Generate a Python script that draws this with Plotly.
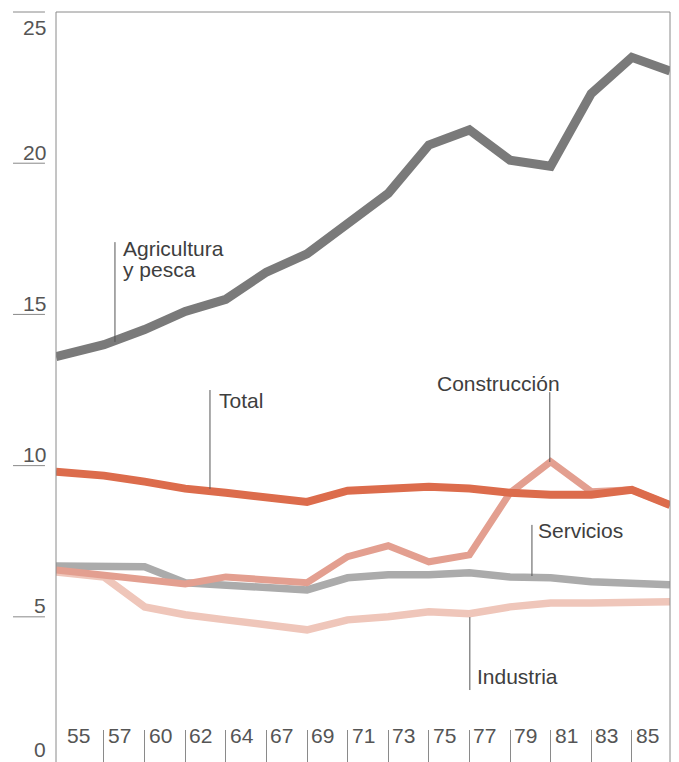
import plotly.graph_objects as go

# ---- data ----
years = ["55", "57", "60", "62", "64", "67", "69", "71", "73", "75", "77", "79", "81", "83", "85"]
# 16 points: one per labelled year plus the end of the chart at the right frame
agricultura = [13.6, 14.0, 14.5, 15.1, 15.5, 16.4, 17.0, 18.0, 19.0, 20.6, 21.1, 20.1, 19.9, 22.3, 23.5, 23.05]
total = [9.8, 9.67, 9.47, 9.24, 9.1, 8.97, 8.8, 9.17, 9.24, 9.3, 9.24, 9.1, 9.04, 9.04, 9.2, 8.7]
construccion = [6.55, 6.36, 6.23, 6.09, 6.32, 6.23, 6.13, 6.99, 7.35, 6.82, 7.05, 9.1, 10.13, 9.14, 9.2, 8.7]
servicios = [6.68, 6.69, 6.66, 6.13, 6.06, 5.96, 5.89, 6.29, 6.39, 6.39, 6.46, 6.32, 6.29, 6.16, 6.13, 6.06]
industria = [6.48, 6.32, 5.33, 5.07, 4.9, 4.74, 4.57, 4.9, 5.0, 5.17, 5.1, 5.33, 5.46, 5.46, 5.46, 5.5]
y_ticks = [25, 20, 15, 10, 5, 0]

X_MIN, X_MAX = -0.182, 14.94
Y_MIN, Y_MAX = 0.2, 25

n = len(agricultura)
x = list(range(n))
x[0] = X_MIN          # series start at the left frame
x[-1] = X_MAX         # and end at the right frame

fig = go.Figure()
series = [
    (industria, "#efc6ba", 7.5),
    (servicios, "#ababab", 7.5),
    (construccion, "#e39f90", 7),
    (total, "#dc6c4c", 8),
    (agricultura, "#7a7a7a", 9),
]
for ys, col, w in series:
    fig.add_trace(go.Scatter(x=x, y=ys, mode="lines",
                             line=dict(color=col, width=w), hoverinfo="skip",
                             showlegend=False))

FONT = "Liberation Sans"
TXT = "#3e3e3e"
AXT = "#555555"
ann = []
shapes = []


def ypaper(v):
    return (v - Y_MIN) / (Y_MAX - Y_MIN)


# y-axis labels with short rules
yshifts = {25: -15, 0: 19}
for v in y_ticks:
    ann.append(dict(xref="paper", yref="paper", x=0, y=ypaper(v), xanchor="right", yanchor="middle",
                    xshift=-8, yshift=yshifts.get(v, 11), text=str(v), showarrow=False,
                    font=dict(family=FONT, size=21, color=AXT)))
    shapes.append(dict(type="line", xref="paper", yref="paper", x0=-0.070, x1=-0.018,
                       y0=ypaper(v), y1=ypaper(v), line=dict(color="#888888", width=1)))

# x labels (to the right of each tick)
for i, lab in enumerate(years):
    ann.append(dict(xref="x", yref="paper", x=i, y=0, xanchor="left", yanchor="middle",
                    xshift=2, yshift=27, text=lab, showarrow=False,
                    font=dict(family=FONT, size=21, color=AXT)))

# frame: left, top, right
for x0, x1, y0, y1 in [(0, 0, 0, 1), (0, 1, 1, 1), (1, 1, 0, 1)]:
    shapes.append(dict(type="line", xref="paper", yref="paper", x0=x0, x1=x1, y0=y0, y1=y1,
                       line=dict(color="#8a8a8a", width=1)))

# series labels and leader lines
labels = [
    ("Agricultura", 1.443, 17.18),
    ("y pesca", 1.443, 16.47),
    ("Total", 3.808, 12.17),
    ("Construcción", 9.177, 12.70),
    ("Servicios", 11.665, 7.87),
    ("Industria", 10.167, 3.04),
]
for t, lx, ly in labels:
    ann.append(dict(xref="x", yref="y", x=lx, y=ly, xanchor="left", yanchor="middle",
                    text=t, showarrow=False, borderpad=0,
                    font=dict(family=FONT, size=21, color=TXT)))

leaders = [
    (1.27, 17.39, 14.09),
    (3.61, 12.50, 9.23),
    (11.98, 12.43, 10.12),
    (11.54, 8.04, 6.35),
    (10.01, 4.99, 2.58),
]
for lx, y0, y1 in leaders:
    shapes.append(dict(type="line", xref="x", yref="y", x0=lx, x1=lx, y0=y0, y1=y1,
                       line=dict(color="#555555", width=1)))

# the page body adds an 8px offset, so the figure is 8px smaller and its margins shifted
fig.update_layout(
    width=671, height=754,
    margin=dict(l=48, r=9, t=4, b=0, autoexpand=False),
    paper_bgcolor="white", plot_bgcolor="white",
    annotations=ann, shapes=shapes,
    xaxis=dict(range=[X_MIN, X_MAX], showgrid=False, zeroline=False, showline=False,
               showticklabels=False, ticks="inside", ticklen=32, tickcolor="#8a8a8a",
               tickwidth=1, tickvals=list(range(1, len(years)))),
    yaxis=dict(range=[Y_MIN, Y_MAX], showgrid=False, zeroline=False, showline=False,
               showticklabels=False, ticks=""),
)

fig.write_html("out.html")
